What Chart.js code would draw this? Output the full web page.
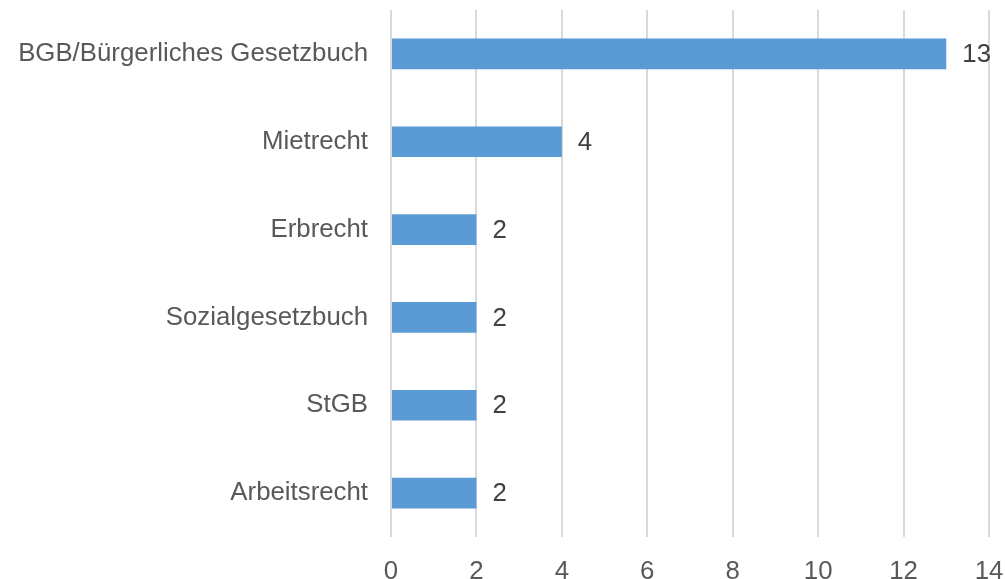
<!DOCTYPE html>
<html lang="de">
  <head>
    <meta charset="UTF-8" />
    <title>Rechtsgebiete</title>
    <script src="https://cdn.jsdelivr.net/npm/chart.js"></script>
    <style>
      html, body { margin: 0; padding: 0; background: #fff; }
      #wrap { width: 1005px; height: 579px; }
    </style>
  </head>
  <body>
    <div id="wrap"><canvas id="barChart"></canvas></div>

    <script>
      const categories = [
        "BGB/Bürgerliches Gesetzbuch",
        "Mietrecht",
        "Erbrecht",
        "Sozialgesetzbuch",
        "StGB",
        "Arbeitsrecht",
      ];
      const counts = [13, 4, 2, 2, 2, 2];
      const xTicks = [0, 2, 4, 6, 8, 10, 12, 14];

      const font = "'Liberation Sans', Arial, sans-serif";
      const fontSize = 25.8;

      // draws the value next to the end of each bar
      const valueLabels = {
        id: "valueLabels",
        afterDatasetsDraw(chart) {
          const ctx = chart.ctx;
          const meta = chart.getDatasetMeta(0);
          ctx.save();
          ctx.font = fontSize + "px " + font;
          ctx.fillStyle = "#404040";
          ctx.textAlign = "left";
          ctx.textBaseline = "middle";
          meta.data.forEach((bar, i) => {
            ctx.fillText(String(counts[i]), bar.x + 16, bar.y + 1);
          });
          ctx.restore();
        },
      };

      const ctx = document.getElementById("barChart").getContext("2d");
      const chart = new Chart(ctx, {
        type: "bar",
        data: {
          labels: categories,
          datasets: [
            {
              data: counts,
              backgroundColor: "#5B9BD5",
              borderWidth: 0,
              barPercentage: 0.7,
              categoryPercentage: 0.5,
            },
          ],
        },
        options: {
          indexAxis: "y",
          responsive: true,
          maintainAspectRatio: false,
          animation: false,
          layout: { padding: { top: 10, right: 16, left: 0, bottom: 0 } },
          plugins: {
            legend: { display: false },
            tooltip: { enabled: false },
          },
          scales: {
            x: {
              min: 0,
              max: 14,
              afterBuildTicks: (scale) => {
                scale.ticks = xTicks.map((v) => ({ value: v }));
              },
              afterFit: (scale) => {
                scale.height = 42;
                scale.paddingLeft = 0;
                scale.paddingRight = 0;
              },
              grid: { color: "#d9d9d9", lineWidth: 2, drawTicks: false },
              border: { display: false },
              ticks: {
                color: "#595959",
                font: { family: font, size: fontSize },
                padding: 19,
              },
            },
            y: {
              afterFit: (scale) => {
                scale.width = 391;
                scale.paddingTop = 0;
                scale.paddingBottom = 0;
              },
              grid: { display: false, drawTicks: false },
              border: { display: false },
              ticks: {
                color: "#595959",
                font: { family: font, size: fontSize },
                padding: 23,
              },
            },
          },
        },
        plugins: [valueLabels],
      });
    </script>
  </body>
</html>
